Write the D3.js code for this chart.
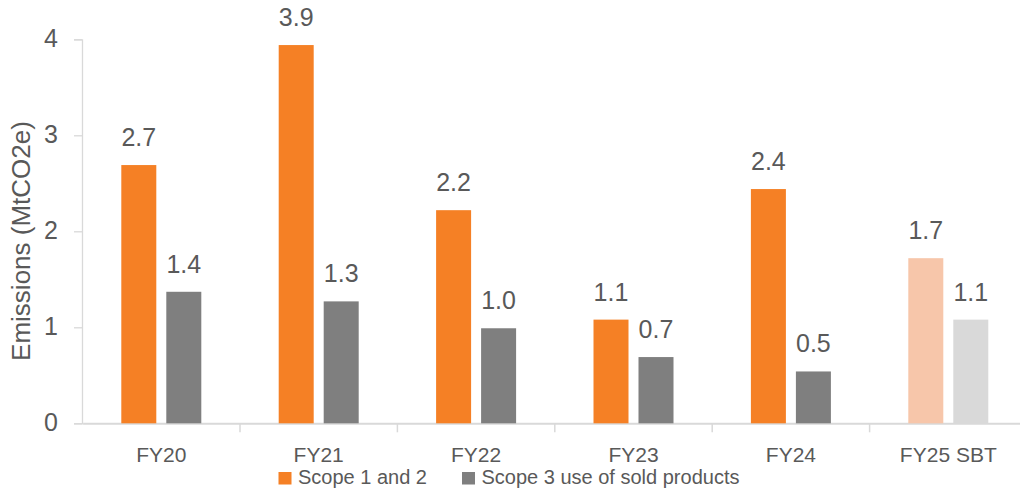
<!DOCTYPE html>
<html>
<head>
<meta charset="utf-8">
<script src="https://cdn.jsdelivr.net/npm/d3@7"></script>
<style>
  html, body { margin: 0; padding: 0; background: #fff; }
  svg { display: block; font-family: "Liberation Sans", Arial, sans-serif; }
</style>
</head>
<body>
<svg id="chart" width="1020" height="488"></svg>
<script>
// Emissions by fiscal year, MtCO2e
const categories = ["FY20", "FY21", "FY22", "FY23", "FY24", "FY25 SBT"];
const seriesNames = ["Scope 1 and 2", "Scope 3 use of sold products"];
const scope12 = [2.69, 3.94, 2.22, 1.08, 2.44, 1.72];
const scope3 = [1.37, 1.27, 0.99, 0.69, 0.54, 1.08];
const yTicks = [0, 1, 2, 3, 4];
const axisTitle = "Emissions (MtCO2e)";

// Solid colours for reported years, pale ones for the target year
const solid = ["#F58025", "#7F7F7F"];
const pale = ["#F7C6AA", "#D9D9D9"];
const targetCategory = "FY25 SBT";

const svg = d3.select("#chart");
const textColor = "#595959";
const gridColor = "#D9D9D9";

const x0 = d3.scaleBand().domain(categories).range([82.6, 1027]).paddingInner(0).paddingOuter(0);
const x1 = d3.scaleBand().domain(seriesNames)
  .range([x0.bandwidth() / 2 - 40, x0.bandwidth() / 2 + 40])
  .paddingInner(10 / 45).paddingOuter(0);
const y = d3.scaleLinear().domain([0, 4]).range([423.3, 39.3]);

const rows = categories.map((c, i) => ({
  category: c,
  values: [
    { series: seriesNames[0], idx: 0, value: scope12[i] },
    { series: seriesNames[1], idx: 1, value: scope3[i] }
  ]
}));

// Y axis
const yAxis = svg.append("g").attr("transform", `translate(${x0.range()[0] - 0.6},0)`)
  .call(d3.axisLeft(y).tickValues(yTicks).tickSize(8).tickPadding(16).tickFormat(d3.format("d")));
yAxis.select(".domain").attr("stroke", gridColor).attr("stroke-width", 1.3);
yAxis.selectAll(".tick line").attr("stroke", gridColor).attr("stroke-width", 1.3);
yAxis.selectAll(".tick text").attr("fill", textColor).attr("font-size", 25)
  .attr("font-family", "'Liberation Sans', Arial, sans-serif").attr("dy", "0.3em");

// Category axis along the baseline
const xAxis = svg.append("g").attr("transform", `translate(0,${y(0)})`)
  .call(d3.axisBottom(x0).tickSize(0).tickPadding(24));
xAxis.select(".domain").attr("stroke", gridColor).attr("stroke-width", 2);
xAxis.selectAll(".tick text").attr("fill", textColor).attr("font-size", 21)
  .attr("font-family", "'Liberation Sans', Arial, sans-serif");
// Separators between categories
xAxis.selectAll(".sep").data(categories.slice(1)).join("line")
  .attr("class", "sep")
  .attr("x1", d => x0(d)).attr("x2", d => x0(d))
  .attr("y1", 0).attr("y2", 9)
  .attr("stroke", gridColor).attr("stroke-width", 1.5);

// Axis title
svg.append("text")
  .attr("transform", `translate(30,241) rotate(-90)`)
  .attr("text-anchor", "middle")
  .attr("fill", textColor).attr("font-size", 26)
  .text(axisTitle);

// Bars and value labels
const groups = svg.append("g").selectAll("g").data(rows).join("g")
  .attr("transform", d => `translate(${x0(d.category)},0)`);

groups.selectAll("rect").data(d => d.values.map(v => ({ ...v, category: d.category }))).join("rect")
  .attr("x", d => x1(d.series))
  .attr("width", x1.bandwidth())
  .attr("y", d => y(d.value))
  .attr("height", d => y(0) - y(d.value))
  .attr("fill", d => (d.category === targetCategory ? pale : solid)[d.idx]);

groups.selectAll("text.val").data(d => d.values).join("text")
  .attr("class", "val")
  .attr("x", d => x1(d.series) + x1.bandwidth() / 2)
  .attr("y", d => y(d.value) - 19)
  .attr("text-anchor", "middle")
  .attr("fill", textColor).attr("font-size", 25)
  .text(d => d3.format(".1f")(d.value));

// Legend
const legendItems = [
  { name: seriesNames[0], color: solid[0], x: 278.5 },
  { name: seriesNames[1], color: solid[1], x: 462 }
];
const legend = svg.append("g").selectAll("g").data(legendItems).join("g")
  .attr("transform", d => `translate(${d.x},472)`);
legend.append("rect").attr("width", 13).attr("height", 12.5).attr("fill", d => d.color);
legend.append("text").attr("x", 19.5).attr("y", 12.3)
  .attr("fill", textColor).attr("font-size", 20)
  .text(d => d.name);
</script>
</body>
</html>
